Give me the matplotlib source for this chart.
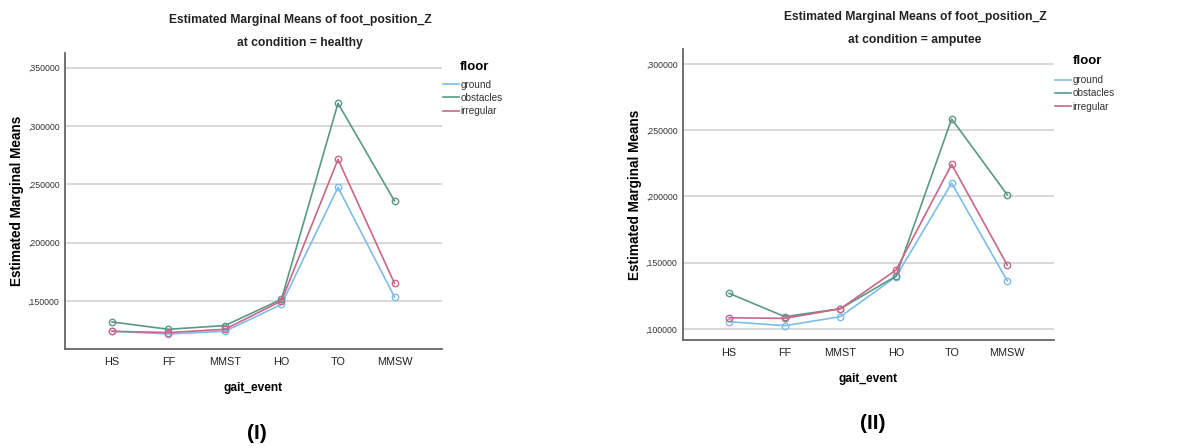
import numpy as np
import matplotlib.pyplot as plt
from matplotlib.ticker import FuncFormatter

plt.rcParams['font.family'] = ['Liberation Sans', 'DejaVu Sans']

gait_events = ["HS", "FF", "MMST", "HO", "TO", "MMSW"]
floors = ["ground", "obstacles", "irregular"]

# estimated marginal means, condition = healthy
healthy_ground = [0.1240, 0.1217, 0.1240, 0.1470, 0.2474, 0.1534]
healthy_obstacles = [0.1320, 0.1257, 0.1289, 0.1514, 0.3195, 0.2357]
healthy_irregular = [0.1240, 0.1229, 0.1257, 0.1500, 0.2714, 0.1650]

# estimated marginal means, condition = amputee
amputee_ground = [0.1055, 0.1025, 0.1093, 0.1395, 0.2101, 0.1363]
amputee_obstacles = [0.1269, 0.1093, 0.1153, 0.1399, 0.2585, 0.2013]
amputee_irregular = [0.1085, 0.1080, 0.1153, 0.1445, 0.2242, 0.1482]

healthy_ticks = [0.15, 0.20, 0.25, 0.30, 0.35]
amputee_ticks = [0.10, 0.15, 0.20, 0.25, 0.30]

colors = {"ground": "#7dbdec", "obstacles": "#5a9888", "irregular": "#c9668a"}


def spss_fmt(v, pos):
    # ,350000 style labels (comma decimal, no leading zero)
    return "," + f"{v:.6f}".split(".")[1]


def draw_panel(ax, series, ticks, ylim):
    x = np.arange(len(gait_events))
    for name, vals in zip(floors, series):
        ax.plot(x, vals, color=colors[name], lw=1.2, marker="o", ms=4.6,
                mfc="none", mec=colors[name], mew=1.0, label=name, zorder=3)
    ax.set_xlim(-0.83, 5.84)
    ax.set_ylim(*ylim)
    ax.set_yticks(ticks)
    ax.yaxis.set_major_formatter(FuncFormatter(spss_fmt))
    ax.set_xticks(x)
    ax.set_xticklabels(gait_events, fontsize=7.8, color="#222222")
    ax.tick_params(axis="y", length=0, labelsize=6.3, pad=4, labelcolor="#333333")
    ax.tick_params(axis="x", length=0, pad=5.5)
    ax.grid(axis="y", color="#d6d6d6", lw=1.3)
    ax.set_axisbelow(True)
    for s in ["top", "right"]:
        ax.spines[s].set_visible(False)
    for s in ["left", "bottom"]:
        ax.spines[s].set_color("#666666")
        ax.spines[s].set_linewidth(1.3)
    ax.set_xlabel("gait_event", fontsize=8.6, fontweight="bold", labelpad=11)
    ax.set_ylabel("Estimated Marginal Means", fontsize=9.8, fontweight="bold", labelpad=3)
    leg = ax.legend(loc="upper left", bbox_to_anchor=(1.003, 0.91), frameon=False,
                    fontsize=7.2, handlelength=1.6, handletextpad=0.15,
                    labelspacing=0.32, borderpad=0, borderaxespad=0)
    for t in leg.get_texts():
        t.set_color("#333333")
    for h in leg.get_lines():
        h.set_marker("")


fig = plt.figure(figsize=(12, 4.48), dpi=100)

ax1 = fig.add_axes([65 / 1200, 99 / 448, 377 / 1200, 296 / 448])
draw_panel(ax1, [healthy_ground, healthy_obstacles, healthy_irregular],
           healthy_ticks, (0.1088, 0.3626))
ax1.text(1.048, 0.954, "floor", transform=ax1.transAxes, fontsize=9.5,
         fontweight="bold", va="center", ha="left")

ax2 = fig.add_axes([683 / 1200, 108 / 448, 371 / 1200, 291 / 448])
draw_panel(ax2, [amputee_ground, amputee_obstacles, amputee_irregular],
           amputee_ticks, (0.0917, 0.3113))
ax2.text(1.05, 0.96, "floor", transform=ax2.transAxes, fontsize=9.5,
         fontweight="bold", va="center", ha="left")

fig.text(300 / 1200, 1 - 20 / 448, "Estimated Marginal Means of foot_position_Z",
         ha="center", va="center", fontsize=8.7, fontweight="bold", color="#222222")
fig.text(300 / 1200, 1 - 43 / 448, "at condition = healthy",
         ha="center", va="center", fontsize=8.7, fontweight="bold", color="#222222")
fig.text(915 / 1200, 1 - 17 / 448, "Estimated Marginal Means of foot_position_Z",
         ha="center", va="center", fontsize=8.7, fontweight="bold", color="#222222")
fig.text(915 / 1200, 1 - 40 / 448, "at condition = amputee",
         ha="center", va="center", fontsize=8.7, fontweight="bold", color="#222222")

fig.text(257 / 1200, 1 - 433 / 448, "(I)", ha="center", va="center",
         fontsize=15, fontweight="bold")
fig.text(873 / 1200, 1 - 423 / 448, "(II)", ha="center", va="center",
         fontsize=15, fontweight="bold")

fig.savefig("out.png", dpi=100)
